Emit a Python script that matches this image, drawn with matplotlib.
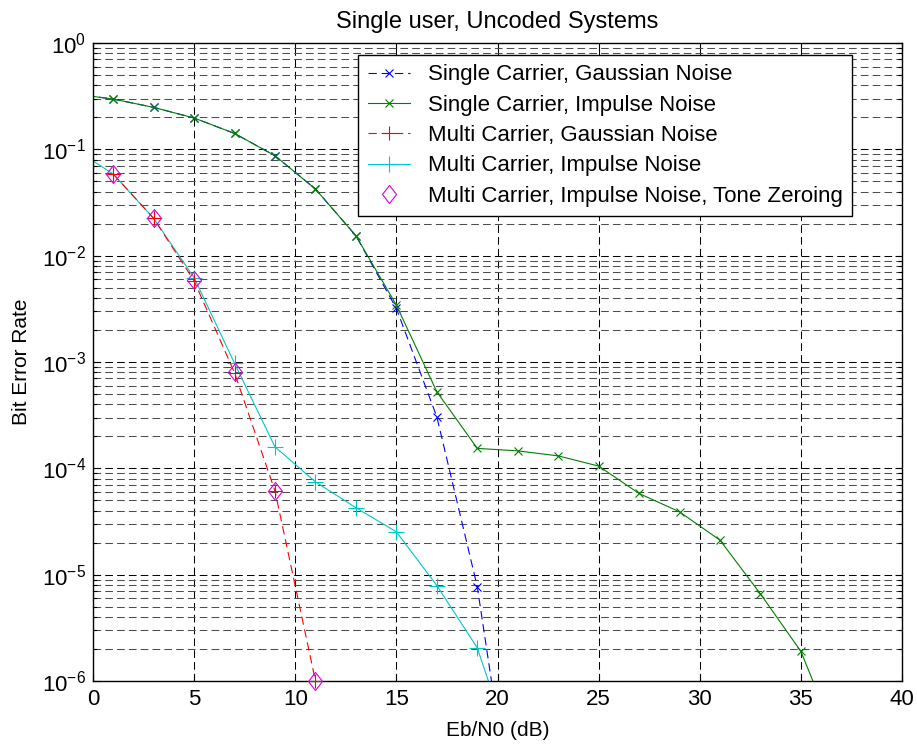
import matplotlib
matplotlib.use("Agg")
import matplotlib.pyplot as plt
from matplotlib.path import Path
from matplotlib.ticker import LogLocator, MultipleLocator, NullFormatter

# ---- data ----
snr_sc_gauss = [-1, 1, 3, 5, 7, 9, 11, 13, 15, 17, 19, 21]
ber_sc_gauss = [0.333, 0.297, 0.248, 0.197, 0.141, 0.087, 0.0423, 0.0154,
                0.00319, 3.05e-4, 7.7e-6, 2.3e-8]

snr_sc_imp = [-1, 1, 3, 5, 7, 9, 11, 13, 15, 17, 19, 21, 23, 25, 27, 29, 31, 33, 35, 37]
ber_sc_imp = [0.333, 0.297, 0.248, 0.197, 0.141, 0.087, 0.0423, 0.0154,
              0.00343, 5.25e-4, 1.54e-4, 1.46e-4, 1.31e-4, 1.05e-4, 5.8e-5,
              3.9e-5, 2.11e-5, 6.6e-6, 1.9e-6, 2.2e-7]

snr_mc_gauss = [1, 3, 5, 7, 9, 11]
ber_mc_gauss = [0.0586, 0.0224, 5.8e-3, 7.9e-4, 6.1e-5, 1.0e-6]

snr_mc_imp = [-1, 1, 3, 5, 7, 9, 11, 13, 15, 17, 19, 21]
ber_mc_imp = [0.103, 0.0586, 0.0224, 6.2e-3, 9.7e-4, 1.59e-4, 7.46e-5,
              4.26e-5, 2.53e-5, 7.9e-6, 2.05e-6, 1.5e-7]

snr_tz = [1, 3, 5, 7, 9, 11]
ber_tz = [0.058, 0.0224, 5.9e-3, 8.0e-4, 6.1e-5, 1.0e-6]

labels = ["Single Carrier, Gaussian Noise",
          "Single Carrier, Impulse Noise",
          "Multi Carrier, Gaussian Noise",
          "Multi Carrier, Impulse Noise",
          "Multi Carrier, Impulse Noise, Tone Zeroing"]

title = "Single user, Uncoded Systems"
xlabel = "Eb/N0 (dB)"
ylabel = "Bit Error Rate"

# ---- style ----
plt.rcParams['font.family'] = ['Liberation Sans', 'DejaVu Sans']
plt.rcParams['mathtext.default'] = 'regular'
plt.rcParams['lines.scale_dashes'] = False

W, H = 917, 749
fig = plt.figure(figsize=(W / 100, H / 100), dpi=100)
L, R, T, B = 93, 902, 43, 681
ax = fig.add_axes([L / W, (H - B) / H, (R - L) / W, (B - T) / H])

lw = 0.8
diamond = Path([(0, 1), (0.78, 0), (0, -1), (-0.78, 0), (0, 1)],
               [Path.MOVETO, Path.LINETO, Path.LINETO, Path.LINETO, Path.CLOSEPOLY])

ax.plot(snr_sc_gauss, ber_sc_gauss, color=(0, 0, 1), linestyle=(0, (6, 3.5)),
        marker='x', markersize=6, markeredgewidth=lw, linewidth=lw, label=labels[0])
ax.plot(snr_sc_imp, ber_sc_imp, color=(0, 0.5, 0), linestyle='-',
        marker='x', markersize=6, markeredgewidth=lw, linewidth=lw, label=labels[1])
ax.plot(snr_mc_gauss, ber_mc_gauss, color=(1, 0, 0), linestyle=(0, (6, 3.5)),
        marker='+', markersize=10, markeredgewidth=lw, linewidth=lw, label=labels[2],
        clip_on=False, zorder=3)
ax.plot(snr_mc_imp, ber_mc_imp, color=(0, 0.78, 0.78), linestyle='-',
        marker='+', markersize=11.5, markeredgewidth=lw, linewidth=lw, label=labels[3])
ax.plot(snr_tz, ber_tz, linestyle='none', marker=diamond, markersize=13,
        markerfacecolor='none', markeredgecolor=(0.85, 0, 0.85), markeredgewidth=lw,
        label=labels[4], clip_on=False, zorder=4)

ax.set_yscale('log')
ax.set_xlim(0, 40)
ax.set_ylim(1e-6, 1)
ax.xaxis.set_major_locator(MultipleLocator(5))
ax.yaxis.set_major_locator(LogLocator(base=10, numticks=20))
ax.yaxis.set_minor_locator(LogLocator(base=10, subs=range(2, 10), numticks=20))
ax.yaxis.set_minor_formatter(NullFormatter())

grid_ls = (0, (5.5, 3))
ax.grid(True, which='major', color='k', linestyle=grid_ls, linewidth=0.75)
ax.grid(True, which='minor', axis='y', color='0.3', linestyle=grid_ls, linewidth=0.75)
ax.set_axisbelow(True)

ax.tick_params(which='both', direction='in', top=True, right=True, width=0.8,
               labelsize=16, colors='k')
ax.tick_params(which='major', length=5)
ax.tick_params(axis='x', which='major', pad=6)
ax.tick_params(axis='y', which='major', pad=5)
ax.tick_params(which='minor', length=3)
for s in ax.spines.values():
    s.set_linewidth(1.0)
    s.set_color('k')

ax.set_title(title, fontsize=17, pad=11)
ax.set_xlabel(xlabel, fontsize=15, labelpad=8)
ax.set_ylabel(ylabel, fontsize=15, labelpad=8)

leg = ax.legend(loc='upper right', bbox_to_anchor=((852 - L) / (R - L), (B - 55) / (B - T)),
                borderaxespad=0, fontsize=16, fancybox=False, framealpha=1,
                edgecolor='k', handlelength=1.9, handletextpad=0.8, labelspacing=0.42,
                borderpad=0.42, numpoints=1)
leg.get_frame().set_linewidth(1.0)

fig.savefig("out.png", dpi=100)
